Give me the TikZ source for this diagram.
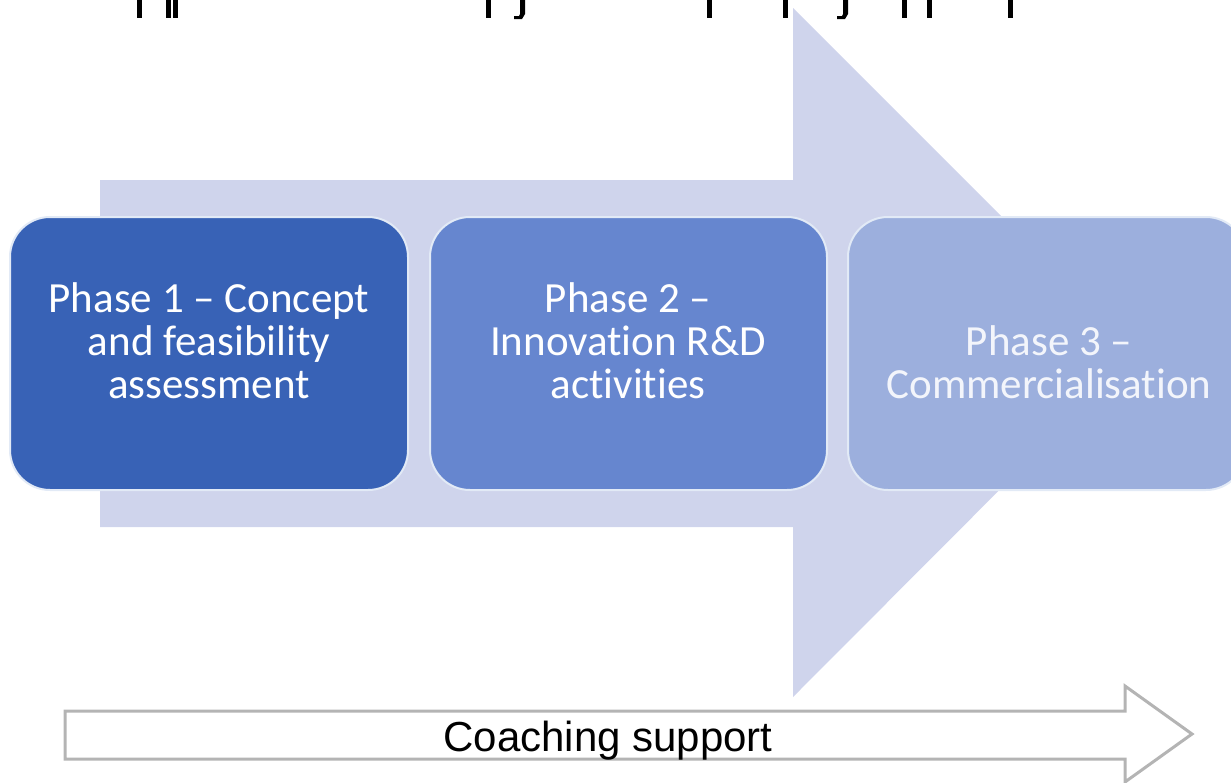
\documentclass[tikz,border=0pt]{standalone}
\usepackage{fontspec}
\setmainfont{Carlito}[Ligatures=NoCommon]
\newfontfamily\arialfont{Liberation Sans}
\definecolor{bigarrow}{HTML}{CFD4EC}
\definecolor{boxA}{HTML}{3862B6}
\definecolor{boxB}{HTML}{6686CF}
\definecolor{boxC}{HTML}{9CAFDD}
\definecolor{boxedge}{HTML}{E2EAF6}
\definecolor{coachgray}{HTML}{B4B4B4}
\tikzset{
  phasebox/.style={rounded corners=20pt, draw=boxedge, line width=1pt},
  phasetext/.style={text=white, font=\fontsize{21.5}{21.5}\selectfont, align=center, inner sep=0pt},
  frag/.style={fill=black, draw=none}
}
\begin{document}
\begin{tikzpicture}[x=0.5pt,y=-0.5pt]
\useasboundingbox (0,0) rectangle (1231,782);
\clip (0,0) rectangle (1231,782);
% faint glyph fragments at the top edge
\foreach \xx in {137,166,173,486,707,783,902,927,1008}{
  \fill[frag] (\xx,0) rectangle ++(5,18);
}
\foreach \xx in {520,843}{
  \fill[frag] (\xx,0) -- ++(5,0) -- ++(0,14) -- ++(-3,5) -- ++(-8,0) -- ++(0,-3) -- ++(5,0) -- ++(1,-2) -- cycle;
}
% big background arrow
\fill[bigarrow] (100,180) -- (793,180) -- (793,8) -- (1137,352) -- (793,697) -- (793,527) -- (100,527) -- cycle;
% phase boxes
\path[phasebox, fill=boxA] (10,217) rectangle (408,490);
\path[phasebox, fill=boxB] (430,217) rectangle (827,490);
\path[phasebox, fill=boxC] (848,217) rectangle (1246,490);
\node[phasetext] (p1) at (209,341) {Phase 1 -- Concept\\and feasibility\\assessment};
\node[phasetext] (p2) at (628,341) {Phase 2 --\\Innovation R\&D\\activities};
\node[phasetext, text=white!88!boxC] (p3) at (1049,362) {Phase 3 --\\Commercialisation};
% coaching support arrow
\draw[coachgray, line width=1.5pt, fill=white] (65,711) -- (1125,711) -- (1125,686) -- (1192,734) -- (1125,782) -- (1125,759) -- (65,759) -- cycle;
\node[font=\arialfont\fontsize{21}{21}\selectfont, anchor=base, inner sep=0pt] (coach) at (608,751) {Coaching support};
\end{tikzpicture}
\end{document}
